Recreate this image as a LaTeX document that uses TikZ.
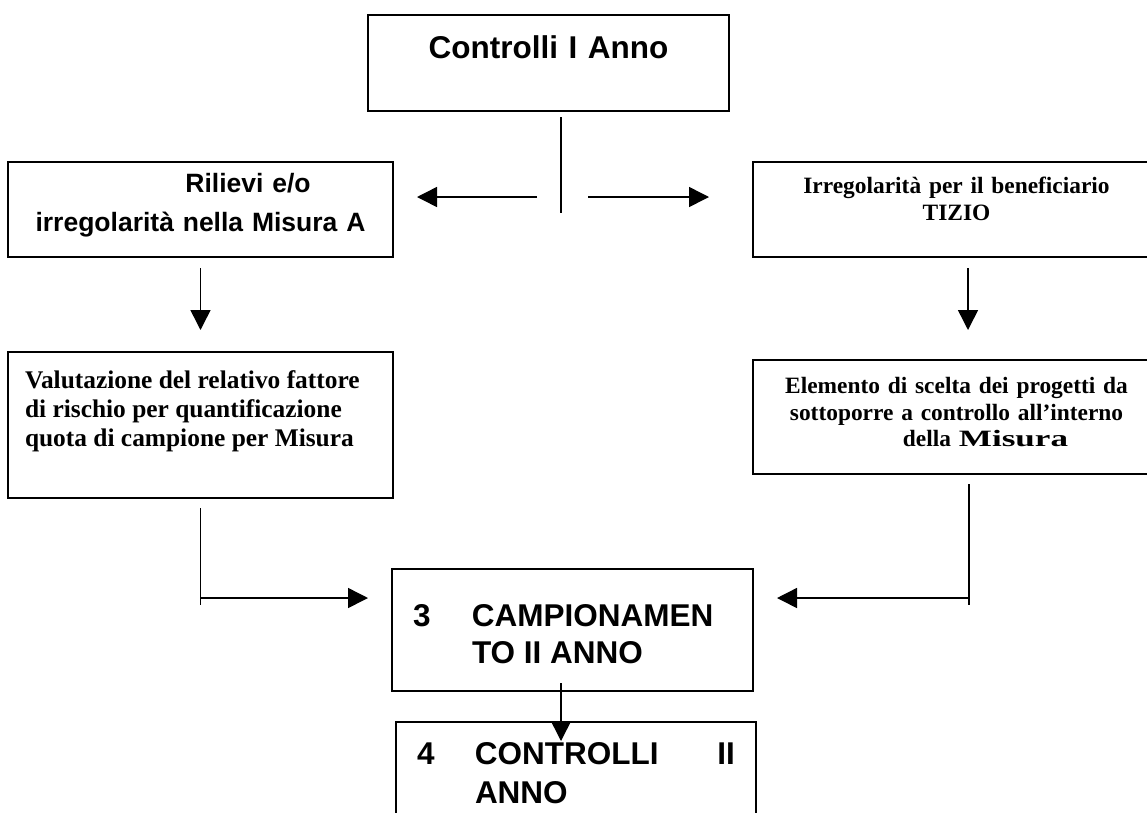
\documentclass[tikz,border=0pt]{standalone}
\usepackage{fontspec}
\setmainfont{Liberation Serif}
\setsansfont{Liberation Sans}
\usetikzlibrary{arrows.meta}

\tikzstyle{box}=[draw=black,line width=1.8pt,rectangle,anchor=north west,inner sep=0pt,outer sep=0pt]
\tikzstyle{conn}=[draw,line width=1.5pt]
\tikzstyle{arr}=[conn,-{Triangle[length=20pt,width=20pt]}]
\tikzstyle{bigtxt}=[font=\sffamily\bfseries\fontsize{31.5}{37}\selectfont]
\tikzstyle{midtxt}=[font=\sffamily\bfseries\fontsize{26.5}{39}\selectfont]
\tikzstyle{serifl}=[font=\rmfamily\bfseries\fontsize{25.4}{29}\selectfont]
\tikzstyle{serifr}=[font=\rmfamily\bfseries\fontsize{23.4}{26.5}\selectfont]

\begin{document}
\begin{tikzpicture}[x=1pt,y=-1pt]
\useasboundingbox (0,0) rectangle (1147,812);
\clip (0,0) rectangle (1147,812);
\fill[white] (0,0) rectangle (1147,812);

% boxes
\node[box,bigtxt,text width=361pt,align=center,text height=43pt,text depth=53pt] (ctrl) at (368,15) {Controlli I Anno};
\node[box,midtxt,text width=385pt,align=center,text height=30pt,text depth=65pt] (rilievi) at (8,162) {\hspace*{95pt}Rilievi e/o\\irregolarità nella Misura A};
\node[box,serifr,text width=407pt,align=center,text height=31.5pt,text depth=63.5pt] (irreg) at (753,162) {Irregolarità per il beneficiario\\TIZIO};
\node[box,serifl,inner xsep=17pt,text width=351pt,align=flush left,text height=36pt,text depth=110pt] (valut) at (8,352) {Valutazione del relativo fattore\\di rischio per quantificazione\\quota di campione per Misura};
\node[box,serifr,text width=407pt,align=center,text height=33.5pt,text depth=80.5pt] (elem) at (753,360) {Elemento di scelta dei progetti da\\sottoporre a controllo all’interno\\\hspace*{58pt}della \scalebox{1.5}[1]{Misura}};
\node[box,bigtxt,inner xsep=21pt,text width=319pt,align=flush left,text height=57pt,text depth=65pt] (camp) at (392,569) {\makebox[59pt][l]{3}CAMPIONAMEN\\\hspace*{59pt}TO II ANNO};
\node[box,font=\sffamily\bfseries\fontsize{31.5}{39}\selectfont,inner xsep=21pt,text width=318pt,align=flush left,text height=42pt,text depth=108pt] (ctrlii) at (396,722) {\makebox[\linewidth][l]{\makebox[58pt][l]{4}CONTROLLI\hfill II}\\\hspace*{58pt}ANNO};

% connectors
\coordinate (hubtop) at (561,117);
\coordinate (hubbot) at (561,213);
\coordinate (hubmid) at (561,197);
\coordinate (lturn) at (200.5,598);
\coordinate (rturn) at (969,598);
\coordinate (down1) at (561,683);
\coordinate (down2) at (561,741);

\draw[conn] (hubtop) -- (hubbot);
\draw[arr,shorten <=24pt,shorten >=24pt] (hubmid) -- (hubmid -| rilievi.east);
\draw[arr,shorten <=27pt,shorten >=44pt] (hubmid) -- (hubmid -| irreg.west);
\foreach \src/\dst/\dx/\gap in {rilievi/valut/0/22, irreg/elem/11.5/30}
  \draw[arr,shorten <=11pt,shorten >=\gap pt] ([xshift=\dx pt]\src.south) -- ([xshift=\dx pt]\dst.north);
\draw[conn] ([yshift=-10pt]valut.south) -- (lturn) -- ++(0,7);
\draw[arr,shorten >=24pt] (lturn) -- (lturn -| camp.west);
\draw[conn] ([xshift=12.5pt,yshift=-10pt]elem.south) -- (rturn) -- ++(0,7);
\draw[arr,shorten >=24pt] (rturn) -- (rturn -| camp.east);
\draw[arr] (down1) -- (down2);
\end{tikzpicture}
\end{document}
